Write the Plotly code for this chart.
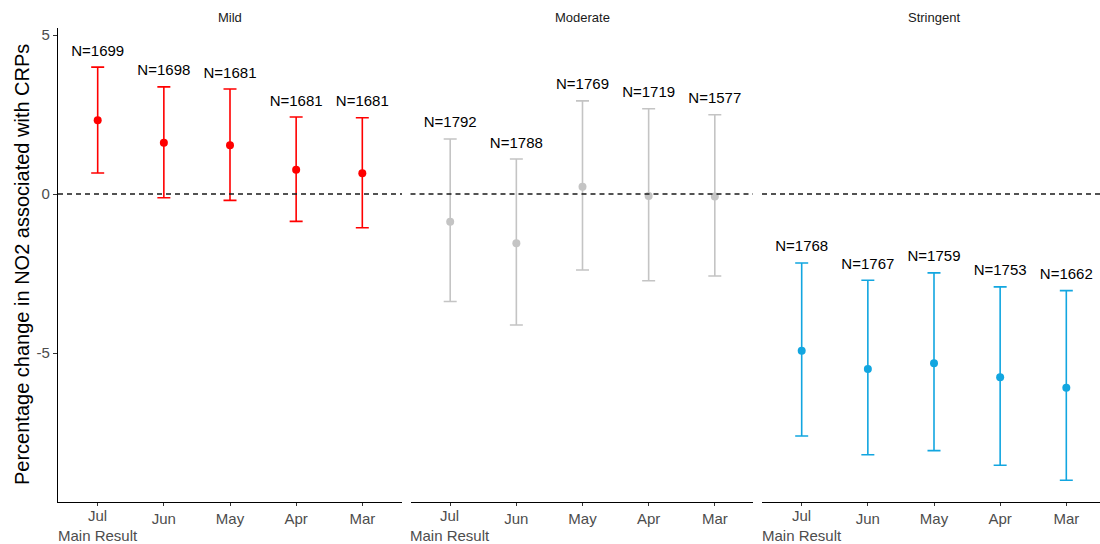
import plotly.graph_objects as go

# Months (categories) and panel groups
months = ["Jul", "Jun", "May", "Apr", "Mar"]
groups = ["Mild", "Moderate", "Stringent"]
main_label = "Main Result"

# Estimates and 95% CI per group, in month order
mild_est = [2.32, 1.61, 1.53, 0.76, 0.65]
mild_lo = [0.66, -0.12, -0.20, -0.86, -1.06]
mild_hi = [3.99, 3.37, 3.30, 2.42, 2.40]
mild_n = [1699, 1698, 1681, 1681, 1681]

moderate_est = [-0.87, -1.55, 0.23, -0.06, -0.08]
moderate_lo = [-3.38, -4.12, -2.39, -2.73, -2.58]
moderate_hi = [1.73, 1.10, 2.93, 2.68, 2.49]
moderate_n = [1792, 1788, 1769, 1719, 1577]

stringent_est = [-4.93, -5.50, -5.32, -5.76, -6.09]
stringent_lo = [-7.61, -8.20, -8.07, -8.53, -9.00]
stringent_hi = [-2.17, -2.71, -2.48, -2.92, -3.04]
stringent_n = [1768, 1767, 1759, 1753, 1662]

colors = ["#FF0000", "#C4C4C4", "#12A6E0"]
series = [
    (mild_est, mild_lo, mild_hi, mild_n),
    (moderate_est, moderate_lo, moderate_hi, moderate_n),
    (stringent_est, stringent_lo, stringent_hi, stringent_n),
]

W, H = 1100, 544
# panel pixel extents (left, right)
panels_px = [(58, 402), (410.5, 753), (762, 1100)]
top_px, bottom_px = 28, 502
ydom = [(H - bottom_px) / H, (H - top_px) / H]
px_per_cat = 344 / 5.2
label_offset = 0.48

fig = go.Figure()

font_family = "Liberation Sans, Arial, sans-serif"
tick_font = dict(family=font_family, size=15, color="#4D4D4D")

# first month's label carries a second line, drawn separately below
tick_text = [""] + months[1:]

for i, ((est, lo, hi, ns), col) in enumerate(zip(series, colors)):
    ax = "" if i == 0 else str(i + 1)
    xref, yref = "x" + ax, "y" + ax
    fig.add_trace(go.Scatter(
        x=months, y=est, mode="markers",
        marker=dict(color=col, size=8),
        error_y=dict(type="data", symmetric=False,
                     array=[h - e for h, e in zip(hi, est)],
                     arrayminus=[e - l for e, l in zip(est, lo)],
                     color=col, thickness=1.6, width=6.5),
        xaxis=xref, yaxis=yref, showlegend=False, hoverinfo="skip",
    ))
    fig.add_trace(go.Scatter(
        x=months, y=[h + label_offset for h in hi], mode="text",
        text=[f"N={n}" for n in ns], textposition="middle center",
        textfont=dict(family=font_family, size=15, color="#000000"),
        xaxis=xref, yaxis=yref, showlegend=False, hoverinfo="skip",
    ))
    # zero reference line across the panel
    fig.add_shape(type="line", xref=xref + " domain", yref=yref,
                  x0=0, x1=1, y0=0, y1=0,
                  line=dict(color="#1A1A1A", width=1.4, dash="5px,4px"))

    l, r = panels_px[i]
    x_hi = -0.6 + (r - l) / px_per_cat
    xa = dict(
        domain=[l / W, r / W], type="category",
        categoryorder="array", categoryarray=months,
        range=[-0.6, x_hi], automargin=False,
        tickmode="array", tickvals=months, ticktext=tick_text,
        showline=True, linecolor="#000000", linewidth=1.3,
        ticks="outside", ticklen=3, tickcolor="#333333", tickwidth=1,
        tickfont=tick_font,
        showgrid=False, zeroline=False, fixedrange=True,
        anchor=yref,
    )
    ya = dict(
        domain=ydom, range=[(bottom_px - 194) / -31.8, (194 - top_px) / 31.8],
        showgrid=False, zeroline=False, anchor=xref, automargin=False,
    )
    if i == 0:
        ya.update(showline=True, linecolor="#000000", linewidth=1.3,
                  ticks="outside", ticklen=4, tickcolor="#333333",
                  tickvals=[-5, 0, 5], ticktext=["-5", "0", "5"],
                  tickfont=tick_font)
    else:
        ya.update(showline=False, showticklabels=False, ticks="",
                  matches="y")
    fig.update_layout(**{"xaxis" + ax: xa, "yaxis" + ax: ya})

    # two-line label under the first month's tick
    fig.add_annotation(
        text=f"{months[0]}<br>{main_label}", xref=xref, yref="paper",
        x=months[0], y=(H - 525) / H, showarrow=False,
        xanchor="center", yanchor="middle", align="center", font=tick_font,
    )

    fig.add_annotation(
        text=groups[i], xref="paper", yref="paper",
        x=(l + (l + 343)) / 2 / W, y=(H - 17) / H,
        showarrow=False, xanchor="center", yanchor="middle",
        font=dict(family=font_family, size=13, color="#1A1A1A"),
    )

fig.add_annotation(
    text="Percentage change in NO2 associated with CRPs",
    xref="paper", yref="paper", x=22 / W, y=(H - (top_px + bottom_px) / 2) / H,
    textangle=-90, showarrow=False, xanchor="center", yanchor="middle",
    font=dict(family=font_family, size=20, color="#000000"),
)

fig.update_layout(
    width=W, height=H,
    margin=dict(l=0, r=0, t=0, b=0, autoexpand=False),
    paper_bgcolor="white", plot_bgcolor="white",
)

fig.write_html("out.html")
